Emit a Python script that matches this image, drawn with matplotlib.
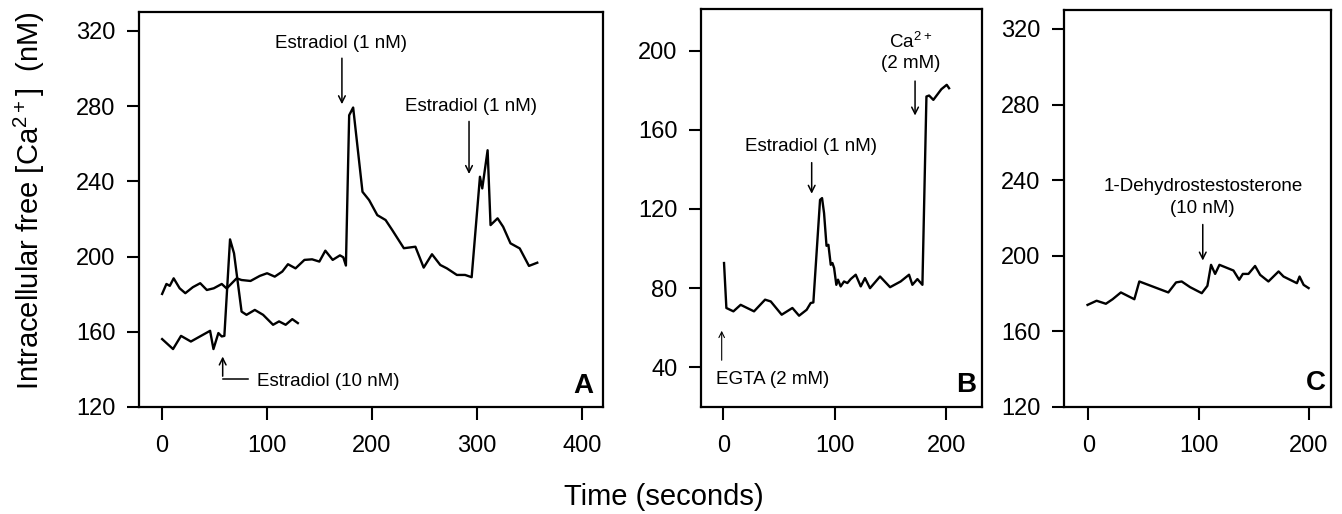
import matplotlib
matplotlib.use("Agg")
import matplotlib.pyplot as plt

plt.rcParams['font.family'] = ['Liberation Sans', 'DejaVu Sans']
plt.rcParams['mathtext.default'] = 'regular'

# Panel A: upper trace (two 1 nM estradiol additions)
a_upper_t = [0, 4.1, 7.3, 11.0, 16.7, 22.1, 29.3, 36.3, 42.6, 49.2, 56.8, 61.5, 71, 75.7,
             84.2, 93.1, 100, 107.3, 114.5, 119.9, 127.1, 135.6, 142.9, 149.8, 155.5, 162.5,
             169.4, 172.6, 175.1, 178.2, 182, 190.9, 197.2, 205, 212.9, 219.2, 230.3, 241.3,
             249.2, 257.1, 265, 271.3, 280.8, 288.6, 294.9, 302.8, 305, 310.1, 312.9, 319.6,
             324.9, 331.9, 340.7, 349.5, 357.4]
a_upper_v = [180.1, 185.4, 184.4, 188.4, 183.1, 180.5, 183.7, 185.8, 182.2, 183.1, 185.4, 183.0,
             188.4, 187.5, 187.0, 189.7, 191.1, 189.3, 192.0, 195.9, 193.7, 198.2, 198.5, 197.3,
             203.1, 198.2, 200.6, 199.6, 195.2, 275.1, 279.2, 234.4, 230.0, 222.0, 219.4, 214.1,
             204.4, 205.2, 194.1, 201.2, 195.5, 193.7, 190.2, 190.2, 189.0, 242.4, 236.2, 256.5,
             216.7, 220.3, 215.8, 207.0, 204.3, 195.0, 196.7]

# Panel A: lower trace (10 nM estradiol)
a_lower_t = [0, 10.4, 18, 27.4, 45.7, 48.9, 53.6, 56.8, 59.3, 64.7, 68.5, 75.7, 80.4, 88.3,
             96.2, 105.7, 111.4, 117.7, 124, 129.3]
a_lower_v = [156.1, 150.8, 157.8, 154.8, 160.5, 150.8, 159.3, 157.5, 157.8, 209.1, 201.7, 170.7,
             169.0, 171.6, 169.0, 163.7, 165.5, 163.7, 166.7, 164.6]

# Panel B: EGTA, estradiol, then Ca2+
b_t = [0.6, 2.7, 9, 15.5, 27.5, 37.4, 42.5, 52.3, 61.9, 67.9, 74.7, 78.3, 80.7, 86.7, 88.5,
       90.3, 92.5, 94.2, 96.3, 97.8, 99.3, 101.3, 102.8, 105.2, 108.2, 111.2, 114.2, 118.7,
       123.2, 127, 131.5, 140.5, 149.5, 159, 166.5, 169.5, 174, 178.5, 182.1, 184.5, 188.3,
       195.5, 200.3, 202.4]
b_v = [92.7, 70.0, 68.3, 71.6, 68.3, 74.2, 73.3, 66.6, 70.0, 66.1, 69.1, 72.5, 72.8, 124.6, 125.5,
       117.9, 101.4, 101.9, 91.8, 92.7, 90.2, 81.7, 84.3, 80.9, 83.4, 82.6, 84.6, 86.8,
       80.9, 85.1, 80.0, 85.9, 80.5, 83.4, 86.8, 81.7, 84.6, 81.7, 176.8, 177.3, 175.1,
       180.5, 182.7, 181]

# Panel C: 1-dehydrostestosterone
c_t = [-0.6, 7.6, 16, 22.1, 29.6, 41.8, 46.3, 72.6, 79.6, 84.7, 92.3, 102.9, 108, 111.3, 115,
       118.9, 131.6, 136.8, 140.1, 145.2, 151.2, 155.8, 163.3, 172.5, 177, 189.1, 191.5,
       195.2, 199.7]
c_v = [174.0, 176.2, 174.6, 177.0, 180.6, 177.0, 186.4, 180.6, 185.9, 186.4, 183.4, 180.2, 184.1,
       195.2, 190.4, 195.2, 192.2, 187.3, 190.4, 190.4, 194.6, 189.9, 186.4, 191.7, 189.0,
       185.5, 189.0, 184.6, 182.9]

fig = plt.figure(figsize=(13.42, 5.14), dpi=100)
axA = fig.add_axes([0.1036, 0.2082, 0.3457, 0.7685])
axB = fig.add_axes([0.5224, 0.2082, 0.2094, 0.7743])
axC = fig.add_axes([0.7928, 0.2082, 0.1990, 0.7723])

for ax in (axA, axB, axC):
    for s in ax.spines.values():
        s.set_linewidth(1.6)
    ax.tick_params(direction='out', length=9, width=1.5, labelsize=17, pad=8)
    ax.tick_params(axis='x', pad=11)

lw = 1.7
axA.plot(a_upper_t, a_upper_v, color='black', lw=lw)
axA.plot(a_lower_t, a_lower_v, color='black', lw=lw)
axA.set_xlim(-22, 420)
axA.set_ylim(120, 330)
axA.set_xticks([0, 100, 200, 300, 400])
axA.set_yticks([120, 160, 200, 240, 280, 320])

axB.plot(b_t, b_v, color='black', lw=lw)
axB.set_xlim(-20, 232)
axB.set_ylim(20, 221)
axB.set_xticks([0, 100, 200])
axB.set_yticks([40, 80, 120, 160, 200])

axC.plot(c_t, c_v, color='black', lw=lw)
axC.set_xlim(-22, 220)
axC.set_ylim(120, 330)
axC.set_xticks([0, 100, 200])
axC.set_yticks([120, 160, 200, 240, 280, 320])

arr = dict(arrowstyle='->', color='black', lw=1.1, mutation_scale=12)
fs = 13.5

# Panel A annotations
axA.text(170.3, 313.5, 'Estradiol (1 nM)', ha='center', va='center', fontsize=fs)
axA.annotate('', xy=(171.3, 279.5), xytext=(171.3, 306.9), arrowprops=arr)
axA.text(294, 279.5, 'Estradiol (1 nM)', ha='center', va='center', fontsize=fs)
axA.annotate('', xy=(292.4, 242.4), xytext=(292.4, 273.3), arrowprops=arr)
axA.text(90, 133.6, 'Estradiol (10 nM)', ha='left', va='center', fontsize=fs)
axA.plot([57.7, 82], [134.9, 134.9], color='black', lw=1.1)
axA.annotate('', xy=(57.7, 148.3), xytext=(57.7, 134.9), arrowprops=arr)
axA.text(411, 131, 'A', ha='right', va='center', fontsize=20, fontweight='bold')

# Panel B annotations
axB.text(168, 204.2, 'Ca$^{2+}$', ha='center', va='center', fontsize=fs)
axB.text(168, 193.3, '(2 mM)', ha='center', va='center', fontsize=fs)
axB.annotate('', xy=(171.9, 165.8), xytext=(171.9, 186), arrowprops=arr)
axB.text(78.3, 151.5, 'Estradiol (1 nM)', ha='center', va='center', fontsize=fs)
axB.annotate('', xy=(79.2, 126.3), xytext=(79.2, 144.8), arrowprops=arr)
axB.text(-6.9, 33.8, 'EGTA (2 mM)', ha='left', va='center', fontsize=fs)
axB.annotate('', xy=(-1.5, 59.9), xytext=(-1.5, 42.2),
             arrowprops=dict(arrowstyle='->', color='black', lw=0.8, mutation_scale=10))
axB.text(227, 31.3, 'B', ha='right', va='center', fontsize=20, fontweight='bold')

# Panel C annotations
axC.text(103.8, 236.5, '1-Dehydrostestosterone', ha='center', va='center', fontsize=fs)
axC.text(103.8, 225.1, '(10 nM)', ha='center', va='center', fontsize=fs)
axC.annotate('', xy=(103.8, 196), xytext=(103.8, 218), arrowprops=arr)
axC.text(215, 132.7, 'C', ha='right', va='center', fontsize=20, fontweight='bold')

fig.text(0.495, 0.033, 'Time (seconds)', ha='center', va='center', fontsize=21)
fig.text(0.022, 0.61, 'Intracellular free [Ca$^{2+}$]  (nM)', ha='center', va='center',
         rotation=90, fontsize=21)

fig.savefig('out.png', dpi=100)
